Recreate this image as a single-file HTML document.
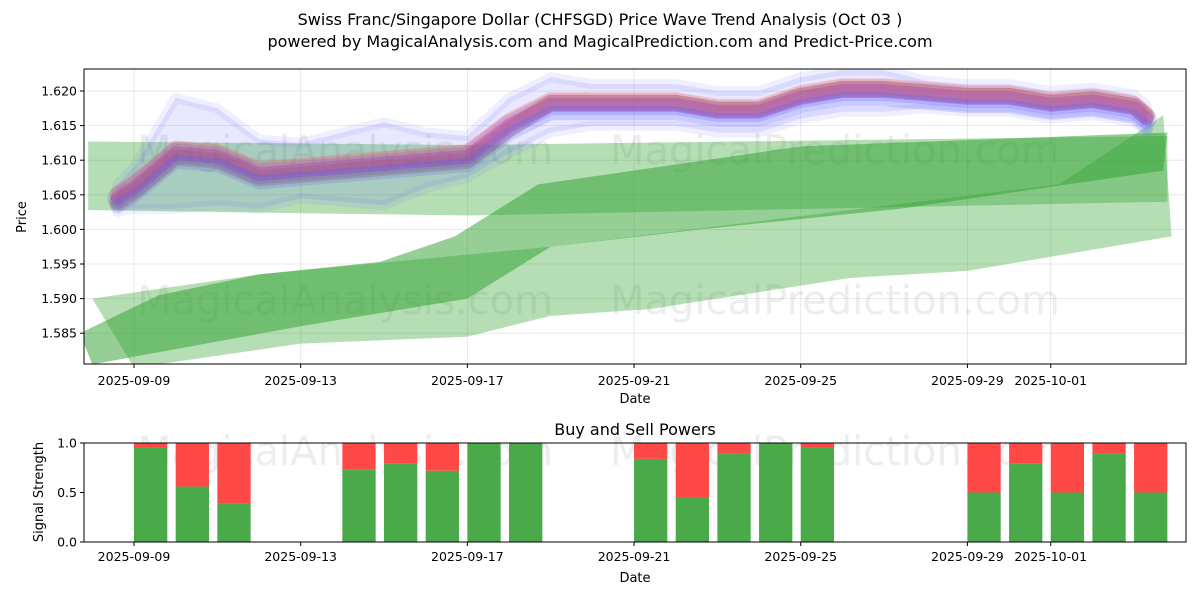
<!DOCTYPE html>
<html><head><meta charset="utf-8"><style>
body{margin:0;background:#fff;font-family:"Liberation Sans","DejaVu Sans",sans-serif}
svg text{font-family:"DejaVu Sans","Liberation Sans",sans-serif}
</style></head><body>
<svg id="c" width="1200" height="600" xmlns="http://www.w3.org/2000/svg">
<defs><clipPath id="cp"><rect x="84" y="69" width="1102" height="295"/></clipPath></defs>
<rect width="1200" height="600" fill="#fff"/>
<text x="600" y="25" text-anchor="middle" font-size="16">Swiss Franc/Singapore Dollar (CHFSGD) Price Wave Trend Analysis (Oct 03 )</text>
<text x="600" y="47" text-anchor="middle" font-size="16">powered by MagicalAnalysis.com and MagicalPrediction.com and Predict-Price.com</text>
<g id="topg"></g><g id="botg"></g>
</svg>
<script>
const tickDates=["2025-09-09","2025-09-13","2025-09-17","2025-09-21","2025-09-25","2025-09-29","2025-10-01"];
const tickDays=[0,4,8,12,16,20,22];
const priceTicks=[1.585,1.590,1.595,1.600,1.605,1.610,1.615,1.620];
const priceDays=[-0.4,0,1,2,3,4,5,6,7,8,9,10,11,12,13,14,15,16,17,18,19,20,21,22,23,24,24.3];
const priceMid=[1.6045,1.606,1.611,1.6105,1.608,1.6085,1.609,1.6095,1.610,1.6105,1.615,1.618,1.618,1.618,1.618,1.617,1.617,1.619,1.620,1.620,1.6195,1.619,1.619,1.618,1.6185,1.6175,1.616];
const blueSpread=[0.002,0.003,0.008,0.007,0.005,0.004,0.005,0.006,0.004,0.003,0.004,0.004,0.003,0.003,0.003,0.003,0.003,0.003,0.003,0.003,0.002,0.002,0.002,0.002,0.002,0.002,0.002];
const bandFlatDays=[-1.1,8,24.8];const bandFlatTop=[1.6127,1.6122,1.6135];const bandFlatBot=[1.6028,1.6020,1.604];
const bandMidTopDays=[-1.3,0.6,3,5.9,7.7,9.7,16,24.8];const bandMidTop=[1.585,1.5905,1.5935,1.5953,1.599,1.6065,1.612,1.614];
const bandMidBotDays=[-1,4,8,10,13.6,18.4,24.7];const bandMidBot=[1.5805,1.586,1.590,1.5975,1.600,1.603,1.6085];
const bandLowTopDays=[-1,3,10,22.2,24.7];const bandLowTop=[1.590,1.5935,1.5975,1.6065,1.6165];
const bandLowBotDays=[0,4,8,10,12.4,17.2,20,24.9];const bandLowBot=[1.580,1.5835,1.5845,1.5875,1.5885,1.593,1.594,1.599];
const barDays=[0,1,2,5,6,7,8,9,12,13,14,15,16,20,21,22,23,24];
const buyVals=[0.95,0.56,0.39,0.73,0.79,0.72,1,1,0.84,0.45,0.89,1,0.95,0.5,0.79,0.5,0.89,0.5];
const NS="http://www.w3.org/2000/svg";
const X0=84,X1=1186;
const xd=d=>134+d*41.67;
const yp=v=>91+(1.620-v)/0.005*34.6;
const yb=v=>542-v*99;
function mk(p,t,a){const e=document.createElementNS(NS,t);for(const k in a)e.setAttribute(k,a[k]);p.appendChild(e);return e;}
const topG=document.getElementById('topg'),botG=document.getElementById('botg');
tickDays.forEach((d,i)=>{
 const g=mk(topG,'line',{x1:xd(d),x2:xd(d),y1:69,y2:364,stroke:'#b0b0b0','stroke-opacity':0.35,'stroke-width':0.8});
 
 
 const t=mk(topG,'text',{x:xd(d),y:385,'text-anchor':'middle','font-size':12.5});t.textContent=tickDates[i];
 
 
 mk(topG,'line',{x1:xd(d),x2:xd(d),y1:364,y2:368,stroke:'#000'});
 const t2=mk(botG,'text',{x:xd(d),y:561,'text-anchor':'middle','font-size':12.5});t2.textContent=tickDates[i];
 
 
 mk(botG,'line',{x1:xd(d),x2:xd(d),y1:542,y2:546,stroke:'#000'});
});
priceTicks.forEach(v=>{
 const g=mk(topG,'line',{x1:X0,x2:X1,y1:yp(v),y2:yp(v),stroke:'#b0b0b0','stroke-opacity':0.35,'stroke-width':0.8});
 
 
 const t=mk(topG,'text',{x:77,y:yp(v)+4.5,'text-anchor':'end','font-size':12.5});t.textContent=v.toFixed(3);
 
 
 mk(topG,'line',{x1:X0-4,x2:X0,y1:yp(v),y2:yp(v),stroke:'#000'});
});
[[345,150,'MagicalAnalysis.com'],[835,150,'MagicalPrediction.com'],[345,300,'MagicalAnalysis.com'],[835,300,'MagicalPrediction.com']].forEach(w=>{
 const t=mk(topG,'text',{x:w[0],y:w[1]+14,'text-anchor':'middle','font-size':40,fill:'#888','fill-opacity':0.15});t.textContent=w[2];
 
 
});
const plot=mk(topG,'g',{'clip-path':'url(#cp)'});
function band(td,tv,bd,bv,op,name){
 let pts=td.map((d,i)=>xd(d)+','+yp(tv[i]));
 for(let i=bd.length-1;i>=0;i--)pts.push(xd(bd[i])+','+yp(bv[i]));
 const p=mk(plot,'polygon',{points:pts.join(' '),fill:'#2ca02c','fill-opacity':op});
 
 
}
band(bandFlatDays,bandFlatTop,bandFlatDays,bandFlatBot,0.35,'trend-band-flat');
band(bandMidTopDays,bandMidTop,bandMidBotDays,bandMidBot,0.5,'trend-band-mid');
band(bandLowTopDays,bandLowTop,bandLowBotDays,bandLowBot,0.35,'trend-band-low');
{let pts=priceDays.map((d,i)=>xd(d)+','+yp(priceMid[i]+blueSpread[i]));
 for(let i=priceDays.length-1;i>=0;i--)pts.push(xd(priceDays[i])+','+yp(priceMid[i]-blueSpread[i]));
 const p=mk(plot,'polygon',{points:pts.join(' '),fill:'#6666ff','fill-opacity':0.15,'stroke':'#6666ff','stroke-opacity':0.1,'stroke-width':10,'stroke-linejoin':'round'});
 
 }
const lines=[['#4444ff',0.0,20,0.2],['#ff4444',0.0006,16,0.2],['#cc6633',-0.0006,16,0.3],['#9933cc',0,14,0.35],['#5555ff',-0.0012,14,0.2],['#ee5566',0.001,12,0.15]];
lines.forEach((l,k)=>{
 const pts=priceDays.map((d,i)=>{let off=l[1];if(k==2&&d>9)off=0.0003;return xd(d)+','+yp(priceMid[i]+off)});
 const p=mk(plot,'polyline',{points:pts.join(' '),fill:'none',stroke:(k==2)?'#a06040':l[0],'stroke-width':l[2],'stroke-opacity':(k==2)?0.35:l[3],'stroke-linejoin':'round','stroke-linecap':'round'});
 
 
});
mk(topG,'rect',{x:X0,y:69,width:X1-X0,height:295,fill:'none',stroke:'#000','stroke-width':1});
let t=mk(topG,'text',{x:635,y:403,'text-anchor':'middle','font-size':13});t.textContent='Date';


t=mk(topG,'text',{x:26,y:217,'text-anchor':'middle','font-size':13,transform:'rotate(-90 26 217)'});t.textContent='Price';


t=mk(botG,'text',{x:635,y:435,'text-anchor':'middle','font-size':16});t.textContent='Buy and Sell Powers';


[['MagicalAnalysis.com',345],['MagicalPrediction.com',835]].forEach(w=>{
 const e=mk(botG,'text',{x:w[1],y:465,'text-anchor':'middle','font-size':40,fill:'#888','fill-opacity':0.15});e.textContent=w[0];
 
 
});
barDays.forEach((d,i)=>{
 const x=xd(d),w=33.3,v=buyVals[i];
 const g=mk(botG,'rect',{x:x,y:yb(v),width:w,height:yb(0)-yb(v),fill:'#4aaa4a'});
 
 
 const r=mk(botG,'rect',{x:x,y:yb(1),width:w,height:yb(v)-yb(1),fill:'#ff4848'});
 
 
});
[0,0.5,1].forEach(v=>{
 const e=mk(botG,'text',{x:77,y:yb(v)+4.5,'text-anchor':'end','font-size':12.5});e.textContent=v.toFixed(1);
 
 
 mk(botG,'line',{x1:X0-4,x2:X0,y1:yb(v),y2:yb(v),stroke:'#000'});
});
mk(botG,'rect',{x:X0,y:443,width:X1-X0,height:99,fill:'none',stroke:'#000','stroke-width':1});
t=mk(botG,'text',{x:635,y:582,'text-anchor':'middle','font-size':13});t.textContent='Date';


t=mk(botG,'text',{x:43,y:492,'text-anchor':'middle','font-size':13,transform:'rotate(-90 43 492)'});t.textContent='Signal Strength';


</script>
</body></html>
